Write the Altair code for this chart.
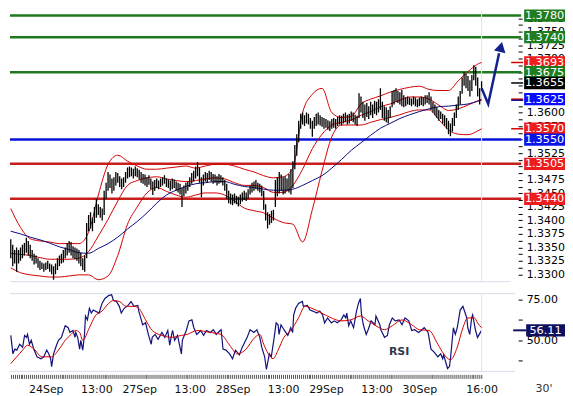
import altair as alt
import pandas as pd

FONT = "DejaVu Sans"
W, H1, H2 = 510, 272, 78
X_DOMAIN = [-0.4, 260.8]
P_DOMAIN = [1.32863, 1.37891]
R_DOMAIN = [30.95, 78.57]

# ---- 30-minute bars (pips, 1.xxxx * 10000), bar index 0 = 23Sep 15:00 ----
bar_low = [
    13330, 13315, 13320, 13305, 13320, 13325, 13330, 13335, 13340, 13335,
    13330, 13325, 13318, 13320, 13312, 13308, 13310, 13305, 13308, 13310,
    13305, 13300, 13290, 13300, 13308, 13315, 13320, 13322, 13330, 13335,
    13340, 13335, 13330, 13328, 13325, 13320, 13315, 13308, 13305, 13330,
    13380, 13385, 13380, 13395, 13405, 13410, 13405, 13400, 13410, 13440,
    13455, 13460, 13450, 13455, 13465, 13470, 13462, 13458, 13462, 13470,
    13478, 13480, 13482, 13478, 13482, 13480, 13476, 13470, 13468, 13465,
    13462, 13466, 13458, 13447, 13455, 13460, 13458, 13462, 13465, 13468,
    13462, 13460, 13455, 13458, 13460, 13455, 13452, 13448, 13425, 13445,
    13450, 13455, 13462, 13468, 13472, 13478, 13482, 13470, 13443, 13465,
    13472, 13470, 13475, 13472, 13468, 13470, 13465, 13468, 13470, 13465,
    13455, 13440, 13432, 13430, 13428, 13432, 13430, 13426, 13430, 13435,
    13438, 13436, 13440, 13448, 13452, 13455, 13458, 13455, 13452, 13445,
    13420, 13400, 13385, 13392, 13395, 13400, 13425, 13445, 13450, 13455,
    13448, 13450, 13455, 13452, 13448, 13460, 13495, 13520, 13545, 13570,
    13578, 13575, 13580, 13578, 13570, 13555, 13570, 13575, 13578, 13576,
    13574, 13570, 13572, 13568, 13566, 13570, 13572, 13570, 13575, 13578,
    13576, 13580, 13582, 13578, 13580, 13585, 13582, 13578, 13575, 13590,
    13600, 13590, 13585, 13592, 13588, 13595, 13590, 13598, 13595, 13600,
    13605, 13590, 13585, 13582, 13580, 13590, 13610, 13615, 13620, 13618,
    13615, 13612, 13610, 13612, 13615, 13614, 13612, 13615, 13612, 13610,
    13612, 13614, 13612, 13615, 13618, 13615, 13605, 13600, 13595, 13590,
    13585, 13588, 13580, 13575, 13570, 13560, 13556, 13565, 13575, 13590,
    13605, 13615, 13635, 13650, 13645, 13640, 13630, 13640, 13660, 13650,
    13630, 13615, 13640,
]
bar_high = [
    13365, 13355, 13345, 13350, 13345, 13350, 13355, 13358, 13368, 13362,
    13355, 13345, 13338, 13335, 13330, 13325, 13322, 13320, 13322, 13325,
    13320, 13318, 13315, 13320, 13330, 13335, 13338, 13345, 13350, 13358,
    13362, 13360, 13352, 13350, 13348, 13345, 13340, 13330, 13335, 13395,
    13410, 13415, 13405, 13425, 13440, 13430, 13425, 13422, 13455, 13470,
    13490, 13485, 13478, 13480, 13490, 13488, 13482, 13478, 13480, 13490,
    13498, 13500, 13498, 13496, 13500, 13497, 13494, 13490, 13486, 13485,
    13480, 13484, 13478, 13472, 13475, 13478, 13474, 13478, 13480, 13484,
    13478, 13476, 13474, 13478, 13476, 13472, 13470, 13468, 13460, 13465,
    13470, 13472, 13480, 13488, 13492, 13500, 13508, 13498, 13480, 13485,
    13490, 13488, 13492, 13490, 13486, 13485, 13482, 13486, 13484, 13480,
    13475, 13468, 13455, 13450, 13448, 13450, 13446, 13444, 13448, 13452,
    13455, 13452, 13458, 13465, 13470, 13472, 13475, 13470, 13468, 13465,
    13455, 13430, 13415, 13412, 13418, 13420, 13475, 13480, 13490, 13485,
    13480, 13482, 13478, 13486, 13495, 13510, 13540, 13560, 13585, 13598,
    13600, 13595, 13600, 13598, 13590, 13585, 13592, 13598, 13600, 13595,
    13592, 13590, 13588, 13586, 13584, 13588, 13590, 13588, 13592, 13595,
    13594, 13598, 13600, 13596, 13598, 13602, 13600, 13596, 13594, 13636,
    13630, 13620, 13615, 13618, 13612, 13620, 13615, 13622, 13620, 13625,
    13645, 13620, 13612, 13610, 13605, 13612, 13640, 13642, 13645, 13640,
    13638, 13642, 13632, 13628, 13630, 13628, 13626, 13630, 13628, 13625,
    13628, 13630, 13628, 13632, 13632, 13638, 13630, 13620, 13615, 13610,
    13605, 13602, 13598, 13595, 13590, 13585, 13580, 13590, 13600, 13615,
    13630, 13640, 13665, 13675, 13672, 13668, 13660, 13670, 13688, 13685,
    13665, 13645, 13658,
]

# ---- indicators sampled every 5 bars (pips) ----
band_k = list(range(0, 241, 5)) + [242]
bb_upper = [13422, 13387, 13366, 13362, 13360, 13357, 13357, 13357, 13378, 13447,
            13504, 13521, 13510, 13501, 13495, 13495, 13497, 13499, 13501, 13497,
            13501, 13504, 13504, 13501, 13495, 13490, 13483, 13479, 13481, 13497,
            13600, 13634, 13645, 13600, 13591, 13593, 13616, 13625, 13631, 13638,
            13643, 13647, 13649, 13643, 13641, 13641, 13659, 13676, 13690, 13693]
bb_mid = [13339, 13337, 13335, 13331, 13328, 13328, 13328, 13330, 13342, 13371,
          13402, 13436, 13465, 13474, 13479, 13481, 13477, 13474, 13472, 13474,
          13477, 13479, 13477, 13470, 13465, 13465, 13461, 13452, 13452, 13465,
          13495, 13533, 13560, 13577, 13582, 13586, 13595, 13602, 13611, 13616,
          13623, 13629, 13629, 13625, 13614, 13604, 13607, 13614, 13622, 13625]
bb_lower = [13312, 13303, 13299, 13297, 13295, 13295, 13297, 13299, 13299, 13290,
            13297, 13335, 13393, 13425, 13451, 13461, 13454, 13447, 13443, 13447,
            13451, 13451, 13447, 13436, 13423, 13418, 13414, 13404, 13396, 13393,
            13360, 13420, 13492, 13555, 13577, 13577, 13577, 13582, 13587, 13591,
            13596, 13602, 13605, 13605, 13587, 13568, 13560, 13559, 13566, 13570]
ma_line = [13380, 13375, 13369, 13364, 13358, 13351, 13346, 13340, 13339, 13348,
           13357, 13369, 13384, 13398, 13414, 13432, 13447, 13456, 13463, 13468,
           13470, 13472, 13472, 13467, 13463, 13461, 13458, 13456, 13456, 13458,
           13465, 13474, 13483, 13497, 13513, 13530, 13544, 13558, 13571, 13580,
           13589, 13596, 13602, 13607, 13611, 13612, 13614, 13616, 13621, 13623]

# ---- RSI (bar index, value) ----
rsi_points = [
    (0, 53.0), (0.6, 47.0), (1.1, 41.7), (2.1, 44.6), (3.1, 44.0), (4.6, 47.6), (6.1, 45.8), (7.1, 53.0), (8.1, 51.8), (8.6, 53.6),
    (9.6, 47.6), (10.5, 50.0), (12.0, 44.0), (13.5, 39.9), (15.5, 38.7), (17.0, 39.9), (18.5, 44.0), (19.5, 41.7), (20.5, 38.7), (21.0, 33.9),
    (22.0, 41.7), (23.5, 47.0), (24.5, 50.0), (26.0, 51.8), (28.0, 58.9), (29.5, 57.7), (30.4, 54.8), (32.0, 56.0), (33.0, 51.8), (33.4, 54.8),
    (34.4, 51.8), (35.4, 44.6), (36.0, 50.0), (37.0, 44.0), (37.9, 53.6), (38.4, 64.9), (39.4, 62.5), (40.4, 69.6), (41.4, 66.7), (42.4, 68.5),
    (43.4, 67.9), (45.4, 66.7), (46.9, 72.6), (48.4, 75.6), (50.3, 77.4), (51.8, 78.0), (52.8, 74.4), (54.3, 73.8), (55.8, 70.8), (56.8, 66.7),
    (58.3, 69.6), (60.3, 71.4), (61.8, 73.8), (63.3, 70.8), (65.3, 71.4), (65.8, 67.9), (66.8, 63.7), (67.8, 59.5), (69.3, 60.7), (70.7, 53.6),
    (72.2, 47.6), (72.7, 51.8), (74.2, 53.6), (75.7, 50.6), (77.7, 54.8), (79.2, 51.8), (80.7, 56.0), (81.7, 47.0), (82.7, 53.6), (83.2, 56.0),
    (84.2, 50.0), (85.7, 53.0), (87.7, 41.7), (88.2, 50.0), (90.2, 56.0), (91.6, 61.9), (93.1, 62.5), (94.1, 57.7), (95.6, 53.6), (97.6, 56.0),
    (99.1, 53.0), (100.6, 56.0), (102.6, 54.8), (104.1, 56.5), (105.6, 53.6), (107.6, 56.0), (108.1, 56.5), (109.1, 44.6), (110.6, 44.0), (112.5, 41.7),
    (114.0, 38.7), (115.5, 44.0), (117.5, 41.1), (119.0, 45.8), (121.5, 51.8), (123.0, 56.5), (125.0, 54.8), (126.5, 56.5), (128.0, 51.8), (129.0, 45.8),
    (130.5, 39.9), (131.4, 32.1), (132.9, 41.7), (133.9, 39.9), (135.4, 51.8), (136.4, 60.7), (137.4, 59.5), (137.9, 53.6), (138.9, 59.5), (140.4, 56.5),
    (142.4, 53.0), (143.9, 57.7), (144.9, 54.8), (145.4, 65.5), (146.4, 69.6), (147.9, 72.6), (149.9, 73.8), (150.4, 70.8), (152.4, 71.4), (153.8, 68.5),
    (155.3, 67.9), (157.3, 66.7), (158.8, 67.9), (160.3, 65.5), (161.3, 60.7), (162.8, 63.7), (164.8, 60.7), (166.3, 61.9), (167.8, 60.7), (169.8, 62.5),
    (171.2, 65.5), (172.2, 63.7), (172.7, 66.7), (173.7, 58.9), (174.7, 61.9), (176.2, 57.7), (177.7, 67.9), (178.7, 72.6), (179.7, 75.6), (180.2, 66.7),
    (181.2, 59.5), (182.7, 53.6), (183.7, 56.5), (185.2, 61.9), (187.2, 59.5), (187.7, 64.9), (189.7, 59.5), (190.2, 56.5), (192.1, 51.8), (193.6, 53.0),
    (194.6, 59.5), (196.1, 63.7), (197.6, 61.9), (199.6, 62.5), (201.1, 59.5), (202.6, 63.7), (204.6, 61.9), (206.1, 56.0), (207.6, 56.5), (209.6, 54.8),
    (211.0, 56.0), (212.5, 57.7), (214.5, 54.8), (216.0, 44.6), (217.5, 42.9), (219.5, 39.9), (221.0, 41.7), (222.0, 38.7), (222.5, 41.1), (224.5, 32.7),
    (225.5, 33.9), (226.0, 38.7), (227.5, 57.7), (228.5, 53.6), (229.5, 57.7), (231.0, 68.5), (232.4, 70.8), (234.4, 63.7), (234.9, 57.7), (235.9, 53.6),
    (236.9, 63.7), (237.4, 65.5), (238.9, 56.0), (239.9, 51.8), (242, 56.11),
]
signal_points = [
    (0, 35.7), (3.1, 39.9), (6.1, 44.0), (8.6, 47.0), (12.0, 44.6), (16.0, 39.9), (21.0, 39.9), (24.5, 44.0), (28.0, 50.0), (31.0, 53.6),
    (33.4, 56.0), (35.4, 54.8), (37.0, 50.0), (40.4, 57.7), (43.4, 64.9), (46.9, 67.9), (50.3, 72.6), (52.8, 74.4), (55.8, 73.8), (59.3, 70.8),
    (63.3, 70.8), (65.8, 69.6), (69.3, 62.5), (72.7, 56.0), (77.7, 53.0), (82.7, 51.8), (87.7, 53.0), (90.7, 53.6), (95.6, 56.0), (102.6, 54.8),
    (108.1, 53.6), (112.5, 47.0), (116.5, 41.7), (120.5, 44.0), (125.5, 51.8), (128.0, 53.6), (130.0, 47.6), (132.4, 41.7), (134.9, 38.7), (137.4, 44.0),
    (140.4, 51.8), (143.9, 56.0), (147.9, 63.7), (151.3, 70.8), (154.8, 69.6), (159.8, 66.7), (164.8, 63.7), (169.8, 61.9), (174.7, 62.5), (179.7, 64.9),
    (183.7, 61.9), (187.7, 58.9), (192.1, 56.5), (196.1, 58.9), (201.1, 62.5), (206.1, 59.5), (210.0, 56.5), (215.0, 56.0), (219.5, 47.6), (222.5, 41.7),
    (226.0, 38.1), (229.5, 45.8), (232.4, 57.7), (234.9, 63.7), (238.4, 63.7), (239.9, 60.7), (242, 57.7),
]

# ---- levels, labels, forecast arrow ----
level_values = [1.3780, 1.3740, 1.3675, 1.3550, 1.3505, 1.3440]
level_colors = ["#1f7a1f", "#1f7a1f", "#1f7a1f", "#0a14d8", "#c81e1e", "#c81e1e"]
box_values = [1.3780, 1.3740, 1.3693, 1.3675, 1.3655, 1.3625, 1.3570, 1.3550, 1.3505, 1.3440]
box_colors = ["#1f7d1f", "#1f7d1f", "#ee1c1c", "#1f7d1f", "#000000", "#0a0aff",
              "#ee1c1c", "#0a14e8", "#ee1c1c", "#ee1c1c"]
last_close = 1.3655
arrow_k = [242, 245.4, 251.0]
arrow_p = [1.3645, 1.3616, 1.3710]
arrow_head = (251.9, 1.3722)
tick_k = [18, 44, 66, 92, 114, 140, 162, 188, 210, 242]
tick_text = ["24Sep", "13:00", "27Sep", "13:00", "28Sep", "13:00", "29Sep", "13:00", "30Sep", "16:00"]
rsi_label = (199.6, 42.9)

# ---------------- data frames ----------------
bars_df = pd.DataFrame({"k": range(len(bar_low)),
                        "low": [v / 10000 for v in bar_low],
                        "high": [v / 10000 for v in bar_high]})
bands_rows = []
for name, arr in [("upper", bb_upper), ("mid", bb_mid), ("lower", bb_lower), ("ma", ma_line)]:
    for k, v in zip(band_k, arr):
        bands_rows.append({"k": k, "p": v / 10000, "s": name})
bands_df = pd.DataFrame(bands_rows)
levels_df = pd.DataFrame({"level": level_values, "color": level_colors})

px_per_p = H1 / (P_DOMAIN[1] - P_DOMAIN[0])
half_p = 6.2 / px_per_p
boxes_df = pd.DataFrame({"level": box_values, "color": box_colors,
                         "label": [f"{v:.4f}" for v in box_values], "o": range(len(box_values))})
boxes_df["lo"] = boxes_df["level"] - half_p
boxes_df["hi"] = boxes_df["level"] + half_p
stubs_df = pd.DataFrame({"level": [bb_upper[-1] / 10000, last_close, bb_mid[-1] / 10000,
                                   ma_line[-1] / 10000, bb_lower[-1] / 10000],
                         "color": ["#d40000", "#000000", "#d40000", "#0b0b80", "#d40000"]})
arrow_df = pd.DataFrame({"k": arrow_k, "p": arrow_p, "o": range(len(arrow_k))})
head_df = pd.DataFrame({"k": [arrow_head[0]], "p": [arrow_head[1]]})
now_df = pd.DataFrame({"k": [len(bar_low) - 1]})
one_df = pd.DataFrame({"d": [0]})

rsi_df = pd.DataFrame(rsi_points, columns=["k", "v"])
sig_df = pd.DataFrame(signal_points, columns=["k", "v"])
last_rsi = rsi_points[-1][1]
px_per_r = H2 / (R_DOMAIN[1] - R_DOMAIN[0])
half_r = 6.2 / px_per_r
rsibox_df = pd.DataFrame({"v": [last_rsi], "lo": [last_rsi - half_r], "hi": [last_rsi + half_r],
                          "label": [f"{last_rsi:.2f}"]})
rsitext_df = pd.DataFrame({"k": [rsi_label[0]], "v": [rsi_label[1]], "t": ["RSI"]})

# ---------------- scales / axes ----------------
xs = alt.Scale(domain=X_DOMAIN, nice=False, zero=False)
ps = alt.Scale(domain=P_DOMAIN, nice=False, zero=False)
rs = alt.Scale(domain=R_DOMAIN, nice=False, zero=False)

price_ticks = [round(n * 0.00125, 5) for n in range(1064, 1103)]
price_axis = alt.Axis(orient="right", values=price_ticks,
                      labelExpr="round(datum.value / 0.00125) % 2 == 0 ? format(datum.value, '.4f') : ''",
                      tickSize=4, tickColor="#000", domain=False, grid=False,
                      labelFont=FONT, labelFontSize=11, labelColor="#000", labelPadding=4,
                      labelOverlap=False, title=None)
rsi_axis = alt.Axis(orient="right", values=[37.5, 50, 62.5, 75],
                    labelExpr="datum.value == 50 || datum.value == 75 ? format(datum.value, '.2f') : ''",
                    tickSize=4, tickColor="#000", domain=False, grid=False,
                    labelFont=FONT, labelFontSize=11, labelColor="#000", labelPadding=4,
                    labelOverlap=False, title=None)
label_expr = " : ".join(f"datum.value == {k} ? '{t}'" for k, t in zip(tick_k, tick_text)) + " : ''"
x_axis = alt.Axis(orient="bottom", values=list(range(0, len(bar_low))), labelExpr=label_expr,
                  tickSize=4, tickColor="#555", domain=False, grid=False, offset=3,
                  labelFont=FONT, labelFontSize=11, labelColor="#111", labelPadding=5,
                  labelOverlap=False, labelFlush=False, title=None)

XM = alt.X("k:Q", scale=xs, axis=None)
XR = alt.X("k:Q", scale=xs, axis=x_axis)
GRAY = "#d6dde7"

# ---------------- main panel ----------------
levels = alt.Chart(levels_df).mark_rule(strokeWidth=2.5).encode(
    y=alt.Y("level:Q", scale=ps, axis=price_axis), x=alt.value(0), x2=alt.value(W + 3),
    color=alt.Color("color:N", scale=None))
bottom_line = alt.Chart(one_df).mark_rule(color=GRAY, strokeWidth=1).encode(
    x=alt.value(0), x2=alt.value(W - 8), y=alt.value(H1))
now_line = alt.Chart(now_df).mark_rule(color="#dfe5ee", strokeWidth=1).encode(x=XM)
bands = alt.Chart(bands_df).mark_line(strokeWidth=1, interpolate="monotone", clip=True).encode(
    x=XM, y=alt.Y("p:Q", scale=ps, axis=price_axis),
    color=alt.Color("s:N", scale=alt.Scale(domain=["upper", "mid", "lower", "ma"],
                                           range=["#d40000", "#d40000", "#d40000", "#0b0b80"]),
                    legend=None))
bars = alt.Chart(bars_df).mark_rule(color="#000", strokeWidth=1.3, clip=True).encode(
    x=XM, y=alt.Y("low:Q", scale=ps, axis=price_axis), y2="high:Q")
arrow = alt.Chart(arrow_df).mark_line(color="#14208c", strokeWidth=2.5).encode(
    x=XM, y=alt.Y("p:Q", scale=ps, axis=price_axis), order="o:Q")
head = alt.Chart(head_df).mark_point(shape="triangle-up", filled=True, size=140, angle=13,
                                     color="#14208c", opacity=1).encode(
    x=XM, y=alt.Y("p:Q", scale=ps, axis=price_axis))
stubs = alt.Chart(stubs_df).mark_rule(strokeWidth=1.5).encode(
    y=alt.Y("level:Q", scale=ps, axis=price_axis), x=alt.value(W - 7), x2=alt.value(W + 5),
    color=alt.Color("color:N", scale=None))
boxes = alt.Chart(boxes_df).mark_rect().encode(
    y=alt.Y("lo:Q", scale=ps, axis=price_axis), y2="hi:Q", x=alt.value(W + 6), x2=alt.value(W + 47),
    color=alt.Color("color:N", scale=None), order="o:Q")
box_text = alt.Chart(boxes_df).mark_text(color="white", font=FONT, fontSize=11.3,
                                         align="center", baseline="middle", dy=0.5).encode(
    y=alt.Y("level:Q", scale=ps, axis=price_axis), x=alt.value(W + 26.5), text="label:N")

main = alt.layer(levels, bottom_line, now_line, bands, bars, arrow, head, stubs, boxes, box_text).properties(
    width=W, height=H1)

# ---------------- RSI panel ----------------
rsi_line = alt.Chart(rsi_df).mark_line(color="#12127a", strokeWidth=1.2, clip=True).encode(
    x=XR, y=alt.Y("v:Q", scale=rs, axis=rsi_axis))
top_r = alt.Chart(one_df).mark_rule(color=GRAY, strokeWidth=1).encode(
    x=alt.value(0), x2=alt.value(W - 3), y=alt.value(0))
bot_r = alt.Chart(one_df).mark_rule(color=GRAY, strokeWidth=1).encode(
    x=alt.value(0), x2=alt.value(W - 3), y=alt.value(H2))
now_r = alt.Chart(now_df).mark_rule(color="#dfe5ee", strokeWidth=1).encode(x=XR)
sig_line = alt.Chart(sig_df).mark_line(color="#d40000", strokeWidth=1, interpolate="monotone",
                                       clip=True).encode(
    x=XR, y=alt.Y("v:Q", scale=rs, axis=rsi_axis))
rsi_stub = alt.Chart(rsibox_df).mark_rule(color="#12125e", strokeWidth=2).encode(
    y=alt.Y("v:Q", scale=rs, axis=rsi_axis), x=alt.value(W - 5), x2=alt.value(W + 8))
rsi_box = alt.Chart(rsibox_df).mark_rect(color="#10105e").encode(
    y=alt.Y("lo:Q", scale=rs, axis=rsi_axis), y2="hi:Q", x=alt.value(W + 8), x2=alt.value(W + 47))
rsi_box_text = alt.Chart(rsibox_df).mark_text(color="white", font=FONT, fontSize=11.3,
                                              align="center", baseline="middle", dy=0.5).encode(
    y=alt.Y("v:Q", scale=rs, axis=rsi_axis), x=alt.value(W + 27.5), text="label:N")
rsi_text = alt.Chart(rsitext_df).mark_text(color="#2c3b4b", font=FONT, fontSize=11, fontWeight="bold",
                                           align="center", baseline="middle").encode(
    x=XR, y=alt.Y("v:Q", scale=rs, axis=rsi_axis), text="t:N")
period_text = alt.Chart(one_df).mark_text(color="#333", font=FONT, fontSize=11, align="center",
                                          baseline="middle", text="30'").encode(
    x=alt.value(W + 26), y=alt.value(H2 + 18))

rsi = alt.layer(rsi_line, top_r, bot_r, now_r, sig_line, rsi_stub, rsi_box, rsi_box_text,
                rsi_text, period_text).properties(width=W, height=H2)

chart = alt.vconcat(main, rsi, spacing=10).properties(padding=0, background="white").configure_view(
    stroke=None)

chart.save("out.html", embed_options={"renderer": "svg", "actions": False})
